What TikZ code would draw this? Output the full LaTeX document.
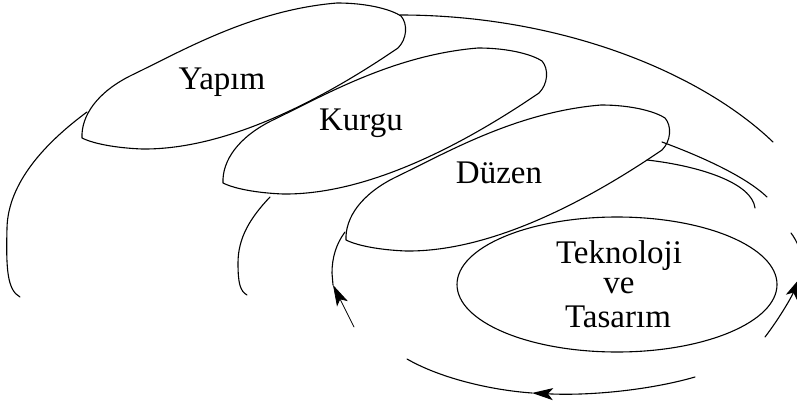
\documentclass[tikz,border=0pt]{standalone}
\usepackage{fontspec}
\setmainfont{Liberation Serif}
\usetikzlibrary{arrows.meta,shapes.geometric}
\tikzset{
  line/.style={line width=1.1pt, line cap=round, line join=round},
  leaf/.pic={\draw[line] (0,0) .. controls (-1,22) and (15,46) .. (50,63)
      .. controls (100,87) and (170,128) .. (255,135)
      .. controls (287,135) and (310,128) .. (319,122)
      .. controls (326,114) and (325,99) .. (316,90)
      .. controls (250,45) and (150,-12) .. (60,-11)
      .. controls (35,-10) and (12,-6) .. cycle;},
  lbl/.style={anchor=base, inner sep=0pt, font=\fontsize{33}{35}\selectfont},
  arr/.style={line, -{Stealth[length=21pt,width=12pt,inset=5pt]}},
}
\begin{document}
\begin{tikzpicture}[x=1pt,y=1pt]
\useasboundingbox (0,0) rectangle (797,408);
% leaves
\pic (e1) at (82,270) {leaf};
\pic (e2) at (223,225) {leaf};
\pic (e3) at (346,168) {leaf};
\node[draw, line width=1.1pt, ellipse, minimum width=320pt, minimum height=135pt, inner sep=0pt] (e4) at (617,123.5) {};
% labels
\node[lbl] (t1) at (222,319) {Yapım};
\node[lbl] (t2) at (361,278) {Kurgu};
\node[lbl] (t3) at (499,225) {Düzen};
\node[lbl] (t4a) at (619,145) {Teknoloji};
\node[lbl] (t4b) at (619,115) {ve};
\node[lbl] (t4c) at (618,81) {Tasarım};
% connector coordinates
\coordinate (c1a) at (87,296);
\coordinate (c1b) at (20,111);
\coordinate (k1) at (400,393);
\coordinate (c1r) at (773,266);
\coordinate (c2a) at (270,211);
\coordinate (c2b) at (247,113);
\coordinate (c2s) at (662,266);
\coordinate (c2e) at (767,211);
\coordinate (c3s) at (647,248);
\coordinate (c3e) at (755,200);
\coordinate (c3a) at (345,176);
\coordinate (tipL) at (333,123);
\coordinate (tailL) at (354,81);
\coordinate (tailR) at (765,71);
\coordinate (tipR) at (800,130);
\coordinate (stubA) at (791,175);
\coordinate (stubB) at (799,160);
\coordinate (botR) at (695,31);
\coordinate (tipB) at (532,15);
\coordinate (botL) at (407,49);
% spiral connectors
\draw[line] (c1a) .. controls (45,265) and (8,225) .. (7,180) .. controls (6,140) and (7,118) .. (c1b);
\draw[line] (k1) .. controls (560,393) and (700,336) .. (c1r);
\draw[line] (c2a) .. controls (250,190) and (238,170) .. (238,145) .. controls (238,125) and (240,117) .. (c2b);
\draw[line] (c2s) .. controls (700,252) and (745,232) .. (c2e);
\draw[line] (c3s) .. controls (700,242) and (752,225) .. (c3e);
\draw[line] (c3a) .. controls (336,164) and (332,150) .. (332,135) -- (tipL);
% arrows
\draw[arr, line width=0.7pt] (tailL) -- (tipL);
\draw[arr] (tailR) .. controls (778,88) and (790,108) .. (tipR);
\draw[line] (stubA) .. controls (794,171) and (797,166) .. (stubB);
\draw[arr] (botR) .. controls (650,18) and (590,12) .. (tipB);
\draw[line] (tipB) .. controls (490,18) and (440,30) .. (botL);
\end{tikzpicture}
\end{document}
